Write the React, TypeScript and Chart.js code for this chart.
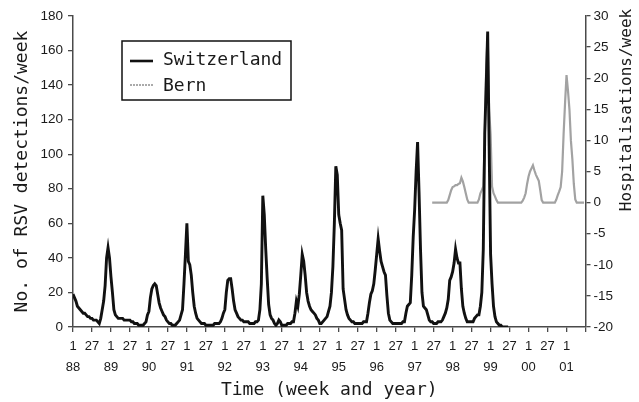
import React, { useEffect, useRef } from 'react';
import { Chart, registerables } from 'chart.js';

Chart.register(...registerables);

// ---- DATA ----
const yearLabels = ['88', '89', '90', '91', '92', '93', '94', '95', '96', '97', '98', '99', '00', '01'];
const weekLabels = ['1', '27'];
const WEEKS_PER_YEAR = 52;
const SAMPLE_STEP = 2; // biweekly samples, x in weeks since week 1 of 1988

// Switzerland: RSV detections/week (left axis), starting 1988 week 1
const swissStartWeek = 0;
const swissValues = [
  // 1988
  19, 17, 15, 12, 11, 10, 9, 8, 8, 7, 6, 6, 5, 5, 4, 4, 4, 3, 2, 5, 10, 15, 24, 40, 46, 40,
  // 1989
  29, 20, 10, 7, 6, 5, 5, 5, 5, 4, 4, 4, 4, 4, 3, 3, 2, 2, 2, 1, 1, 1, 1, 2, 3, 7,
  // 1990
  9, 17, 22, 24, 25, 24, 19, 14, 11, 9, 7, 6, 4, 3, 2, 2, 1, 1, 1, 2, 3, 4, 7, 10, 25, 42,
  // 1991
  60, 38, 36, 30, 20, 12, 8, 5, 4, 3, 2, 2, 2, 1, 1, 1, 1, 1, 1, 2, 2, 2, 2, 3, 5, 8,
  // 1992
  10, 20, 27, 28, 28, 22, 15, 10, 8, 6, 5, 4, 4, 3, 3, 3, 3, 2, 2, 2, 2, 3, 3, 4, 10, 25,
  // 1993
  76, 65, 45, 28, 13, 7, 5, 4, 2, 1, 2, 4, 3, 1, 1, 1, 1, 2, 2, 2, 3, 3, 8, 15, 12, 19,
  // 1994
  30, 42, 38, 30, 20, 15, 12, 10, 9, 8, 7, 5, 4, 2, 2, 3, 4, 5, 6, 9, 12, 20, 35, 60, 93, 88,
  // 1995
  65, 60, 56, 22, 16, 10, 7, 5, 4, 3, 3, 2, 2, 2, 2, 2, 2, 3, 3, 3, 8, 14, 19, 21, 25, 33,
  // 1996
  42, 51, 44, 38, 35, 32, 30, 18, 8, 4, 3, 2, 2, 2, 2, 2, 2, 2, 3, 3, 8, 12, 13, 14, 30, 52,
  // 1997
  68, 90, 107, 78, 45, 20, 12, 11, 10, 7, 4, 3, 3, 2, 2, 2, 3, 3, 3, 4, 6, 8, 11, 16, 27, 29,
  // 1998
  32, 37, 45, 40, 37, 37, 22, 12, 8, 5, 3, 3, 3, 3, 3, 5, 6, 7, 7, 12, 20, 45, 112, 140, 171, 105,
  // 1999
  42, 25, 12, 6, 3, 2, 1, 1, 0, 0, 0, 0, 0,
];

// Bern: hospitalisations/week (right axis), starting 1997 week 25
const bernStartWeek = 492;
const bernValues = [
  0, 0, 0, 0, 0, 0, 0, 0, 0, 0, 0,
  0.4, 1.2, 2, 2.5, 2.6, 2.8, 2.8, 3, 3.1, 4, 3.4, 2.5, 1.5, 0.5,
  0, 0, 0, 0, 0, 0, 0,
  0.5, 1.5, 2, 2.6, 10, 22, 27, 15, 11, 2.6, 1.5, 1, 0.4,
  0, 0, 0, 0, 0, 0, 0, 0, 0, 0, 0, 0, 0, 0, 0, 0, 0,
  0.3, 0.8, 1.5, 3, 4.2, 5, 5.5, 6, 5.2, 4.5, 4, 3.5, 2, 0.4,
  0, 0, 0, 0, 0, 0, 0, 0, 0,
  0.5, 1.2, 1.8, 2.5, 5, 11, 16, 20.5, 18, 15, 10, 7, 3, 0.5,
  0, 0, 0, 0, 0, 0,
];

const X_MAX = 13.5 * WEEKS_PER_YEAR; // through week 27 of 2001

const toPoints = (start: number, values: number[]) =>
  values.map((v, i) => ({ x: start + i * SAMPLE_STEP, y: v }));

const MONO = '"DejaVu Sans Mono", monospace';
const SANS = '"Liberation Sans", Arial, sans-serif';
const AXIS_COLOR = '#4a4a4a';
const TEXT_COLOR = '#1a1a1a';
const BERN_COLOR = '#a2a2a2';

const overlayPlugin = {
  id: 'overlay',
  afterDraw(chart: any) {
    const { ctx, chartArea } = chart;
    ctx.save();
    // legend box
    const lx = chartArea.left + 49;
    const ly = chartArea.top + 25;
    ctx.strokeStyle = '#111';
    ctx.lineWidth = 1.5;
    ctx.strokeRect(lx, ly, 169, 59);
    ctx.lineWidth = 2.6;
    ctx.beginPath();
    ctx.moveTo(lx + 8, ly + 20);
    ctx.lineTo(lx + 31, ly + 20);
    ctx.stroke();
    ctx.strokeStyle = '#8e8e8e';
    ctx.lineWidth = 1.5;
    ctx.setLineDash([2, 1]);
    ctx.beginPath();
    ctx.moveTo(lx + 8, ly + 44);
    ctx.lineTo(lx + 31, ly + 44);
    ctx.stroke();
    ctx.setLineDash([]);
    ctx.fillStyle = TEXT_COLOR;
    ctx.font = '18px ' + MONO;
    ctx.textAlign = 'left';
    ctx.textBaseline = 'alphabetic';
    ctx.fillText('Switzerland', lx + 41, ly + 24);
    ctx.fillText('Bern', lx + 41, ly + 50);
    // right axis title
    ctx.translate(627, 110);
    ctx.rotate(-Math.PI / 2);
    ctx.font = '16px ' + MONO;
    ctx.textAlign = 'center';
    ctx.textBaseline = 'middle';
    ctx.fillText('Hospitalisations/week', 0, 0);
    ctx.restore();
  },
};

export default function App() {
  const canvasRef = useRef<HTMLCanvasElement | null>(null);

  useEffect(() => {
    if (!canvasRef.current) return;
    const chart = new Chart(canvasRef.current, {
      type: 'line',
      data: {
        datasets: [
          {
            label: 'Switzerland',
            data: toPoints(swissStartWeek, swissValues),
            borderColor: '#111111',
            borderWidth: 2.9,
            pointRadius: 0,
            tension: 0,
            yAxisID: 'y',
          },
          {
            label: 'Bern',
            data: toPoints(bernStartWeek, bernValues),
            borderColor: BERN_COLOR,
            borderWidth: 2.2,
            pointRadius: 0,
            tension: 0,
            yAxisID: 'y2',
          },
        ],
      },
      options: {
        animation: false,
        responsive: true,
        maintainAspectRatio: false,
        layout: { padding: { top: 16, left: 0, right: 0, bottom: 0 } },
        plugins: { legend: { display: false }, tooltip: { enabled: false } },
        scales: {
          x: {
            type: 'linear',
            min: 0,
            max: X_MAX,
            afterBuildTicks: (scale: any) => {
              const ticks = [];
              for (let v = 0; v <= X_MAX; v += WEEKS_PER_YEAR / 2) ticks.push({ value: v });
              scale.ticks = ticks;
            },
            afterFit: (scale: any) => {
              scale.height = 75;
            },
            ticks: {
              autoSkip: false,
              maxRotation: 0,
              padding: 4,
              color: TEXT_COLOR,
              font: { family: SANS, size: 13, lineHeight: 1.6 },
              callback: (value: any) => {
                const v = Number(value);
                if (v >= X_MAX) return '';
                const half = Math.round(v / (WEEKS_PER_YEAR / 2));
                const yearIdx = Math.floor(half / 2);
                return half % 2 === 0 ? [weekLabels[0], yearLabels[yearIdx]] : [weekLabels[1], ''];
              },
            },
            grid: { drawOnChartArea: false, drawTicks: true, tickLength: 5, color: AXIS_COLOR, lineWidth: 1.3 },
            border: { display: true, color: AXIS_COLOR, width: 1.5 },
            title: {
              display: true,
              text: 'Time (week and year)',
              color: TEXT_COLOR,
              font: { family: MONO, size: 18 },
              padding: { top: 0, bottom: 1 },
            },
          },
          y: {
            position: 'left',
            min: 0,
            max: 180,
            afterFit: (scale: any) => {
              scale.width = 73;
            },
            ticks: { stepSize: 20, padding: 5, color: TEXT_COLOR, font: { family: SANS, size: 13.5 } },
            grid: { drawOnChartArea: false, drawTicks: true, tickLength: 5, color: AXIS_COLOR, lineWidth: 1.3 },
            border: { display: true, color: AXIS_COLOR, width: 1.5 },
            title: {
              display: true,
              text: 'No. of RSV detections/week',
              color: TEXT_COLOR,
              font: { family: MONO, size: 18 },
              padding: { top: 12, bottom: 0 },
            },
          },
          y2: {
            position: 'right',
            min: -20,
            max: 30,
            afterFit: (scale: any) => {
              scale.width = 53.5;
            },
            ticks: { stepSize: 5, padding: 3, color: TEXT_COLOR, font: { family: SANS, size: 13.5 } },
            grid: { drawOnChartArea: false, drawTicks: true, tickLength: 5, color: AXIS_COLOR, lineWidth: 1.3 },
            border: { display: true, color: AXIS_COLOR, width: 1.5 },
          },
        },
      },
      plugins: [overlayPlugin],
    } as any);
    return () => chart.destroy();
  }, []);

  return (
    <div style={{ position: 'fixed', left: 0, top: 0, width: 639, height: 402, background: '#fff' }}>
      <canvas ref={canvasRef} />
    </div>
  );
}
